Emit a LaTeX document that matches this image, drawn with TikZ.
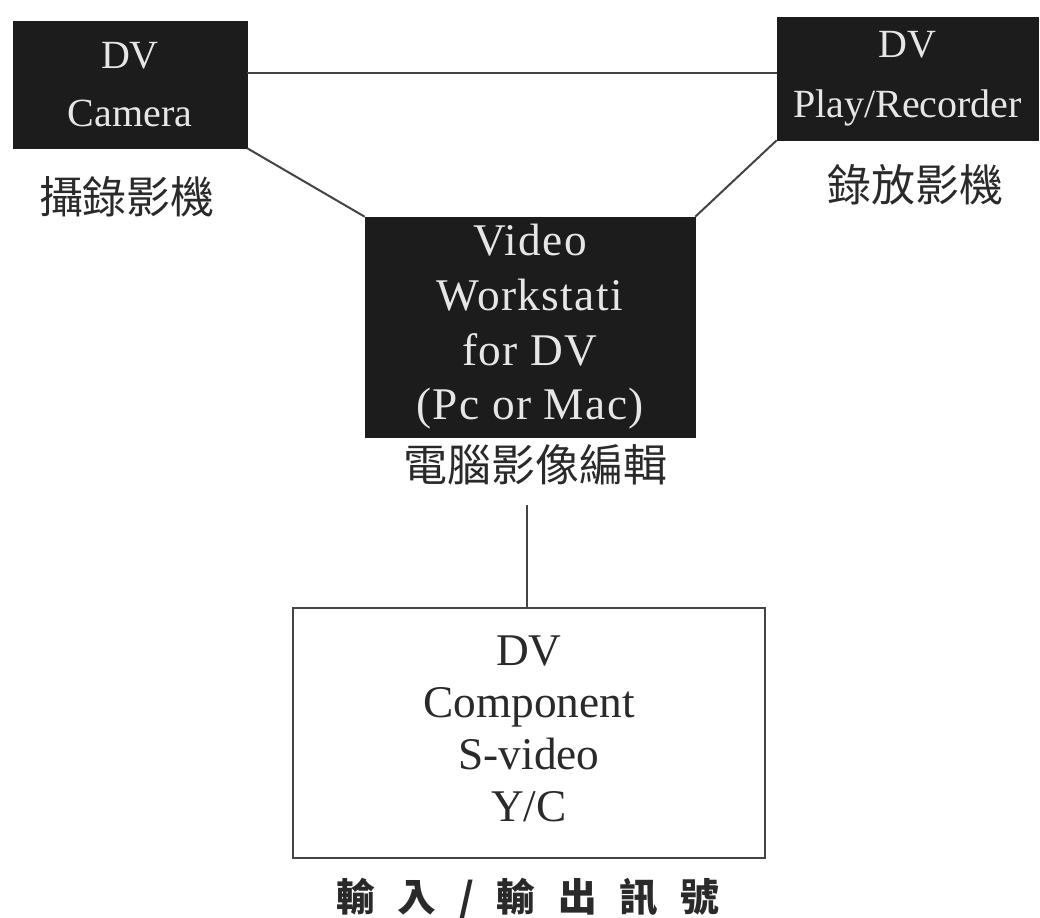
\documentclass[tikz,border=0pt]{standalone}
\usepackage{fontspec}
\setmainfont{Liberation Serif}
\newfontfamily\cjk{Noto Sans CJK TC}
\newfontfamily\wsfont[LetterSpace=3]{Liberation Serif}
\definecolor{boxfill}{HTML}{1C1C1C}
\definecolor{boxtext}{HTML}{E6E6E6}
\definecolor{linecol}{HTML}{444444}
\definecolor{labcol}{HTML}{2A2A2A}
\tikzset{
  darkbox/.style={rectangle, fill=boxfill, draw=boxfill, text=boxtext, align=center, inner sep=0pt},
  whitebox/.style={rectangle, draw=linecol, line width=1.5pt, text=labcol, align=center, inner sep=0pt},
  conn/.style={draw=linecol, line width=1.5pt},
  cjklabel/.style={text=labcol, inner sep=0pt, font=\cjk\fontsize{33}{33}\selectfont}
}
\begin{document}
\begin{tikzpicture}[x=0.75pt,y=-0.75pt]
\useasboundingbox (0,0) rectangle (1040,918);
\fill[white] (0,0) rectangle (1040,918);

\node[darkbox, minimum width=175.5pt, minimum height=95.25pt,
  font=\fontsize{30}{44}\selectfont] (cam) at (130,84.5) {DV\\Camera};
\node[darkbox, minimum width=195.75pt, minimum height=92.25pt,
  font=\fontsize{30}{45}\selectfont] (rec) at (907.5,78.5) {DV\\Play/Recorder};
\node[darkbox, minimum width=247.5pt, minimum height=165pt,
  font=\wsfont\fontsize{34}{41}\selectfont] (ws) at (530,327) {Video\\Workstati\\for DV\\(Pc or Mac)};
\node[whitebox, minimum width=354pt, minimum height=187.5pt,
  font=\fontsize{34}{40}\selectfont] (bot) at (529,733) {\raisebox{5pt}{\begin{tabular}{@{}c@{}}DV\\[-1pt]Component\\[-1pt]S-video\\[-1pt]Y/C\end{tabular}}};

\node[cjklabel] (camlab) at (127,197) {攝錄影機};
\node[cjklabel] (reclab) at (915,185) {錄放影機};
\node[cjklabel] (wslab) at (535,465) {電腦影像編輯};
\node[text=labcol, inner sep=0pt, font=\cjk\bfseries\fontsize{29}{29}\selectfont] (botlab) at (528,898)
  {輸\hspace{17pt}入\hspace{17pt}/\hspace{17pt}輸\hspace{17pt}出\hspace{17pt}訊\hspace{17pt}號};

\coordinate (topy) at (0,73);
\coordinate (vtop) at (527,505);
\draw[conn] (cam.east |- topy) -- (rec.west |- topy);
\draw[conn] (cam.south east) -- (ws.north west);
\draw[conn] (rec.south west) -- (ws.north east);
\draw[conn] (vtop) -- (vtop |- bot.north);
\end{tikzpicture}
\end{document}
